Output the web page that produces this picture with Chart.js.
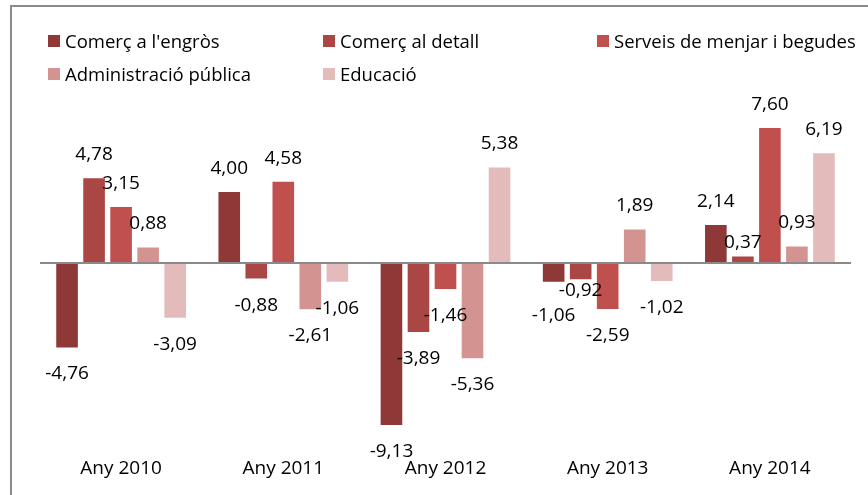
<!DOCTYPE html>
<html>
<head>
<meta charset="utf-8">
<script src="https://cdn.jsdelivr.net/npm/chart.js@4"></script>
<style>
  html, body { margin: 0; padding: 0; background: #fff; }
  #wrap { position: relative; width: 868px; height: 495px; overflow: hidden; }
  #frame { position: absolute; left: 10px; top: 5px; right: -5px; bottom: -5px;
           border-left: 2px solid #8a8a8a; border-top: 2px solid #8a8a8a; pointer-events: none; }
  #legend { position: absolute; left: 0; top: 0; width: 868px; height: 90px; font-family: "Open Sans", sans-serif; font-size: 18.5px; color: #000; }
  .li { position: absolute; display: flex; align-items: center; white-space: nowrap; line-height: 1; }
  .sw { width: 12px; height: 12px; margin-right: 5px; flex: none; }
  canvas { position: absolute; left: 0; top: 0; }
</style>
</head>
<body>
<div id="wrap">
  <canvas id="c" width="868" height="495"></canvas>
  <div id="legend"></div>
  <div id="frame"></div>
</div>
<script>
const categories = ["Any 2010", "Any 2011", "Any 2012", "Any 2013", "Any 2014"];
const seriesNames = ["Comerç a l'engròs", "Comerç al detall", "Serveis de menjar i begudes", "Administració pública", "Educació"];
const comercEngros = [-4.76, 4.00, -9.13, -1.06, 2.14];
const comercDetall = [4.78, -0.88, -3.89, -0.92, 0.37];
const serveisMenjar = [3.15, 4.58, -1.46, -2.59, 7.60];
const administracio = [0.88, -2.61, -5.36, 1.89, 0.93];
const educacio = [-3.09, -1.06, 5.38, -1.02, 6.19];

const colors = ["#8E3837", "#AA4643", "#C0504D", "#D39391", "#E3BBBB"];
// manual label nudges (style only) : [seriesIndex, categoryIndex, dy]
const labelNudges = [[0, 3, 7], [1, 3, -15], [1, 4, 9.5]];

const seriesValues = [comercEngros, comercDetall, serveisMenjar, administracio, educacio];

const FONT = '"Open Sans", sans-serif';

// Legend (HTML, 3 columns)
const legendPos = [[48, 41], [323, 41], [597, 41], [48, 74], [323, 74]];
const legendEl = document.getElementById('legend');
seriesNames.forEach((n, i) => {
  const d = document.createElement('div');
  d.className = 'li';
  d.style.left = legendPos[i][0] + 'px';
  d.style.top = (legendPos[i][1] - 10) + 'px';
  d.style.height = '20px';
  d.innerHTML = '<span class="sw" style="background:' + colors[i] + '"></span><span></span>';
  d.lastChild.textContent = n;
  legendEl.appendChild(d);
});

const valueLabels = {
  id: 'valueLabels',
  afterDatasetsDraw(chart) {
    const ctx = chart.ctx;
    ctx.save();
    ctx.font = '19px ' + FONT;
    ctx.fillStyle = '#000';
    ctx.textAlign = 'center';
    ctx.textBaseline = 'middle';
    chart.data.datasets.forEach((ds, i) => {
      const meta = chart.getDatasetMeta(i);
      meta.data.forEach((bar, j) => {
        const v = ds.data[j];
        let y = v >= 0 ? bar.y - 23.5 : bar.y + 26.5;
        labelNudges.forEach(n => { if (n[0] === i && n[1] === j) y += n[2]; });
        ctx.fillText(v.toFixed(2).replace('.', ','), bar.x, y);
      });
    });
    ctx.restore();
  }
};

new Chart(document.getElementById('c'), {
  type: 'bar',
  data: {
    labels: categories,
    datasets: seriesValues.map((vals, i) => ({
      label: seriesNames[i],
      data: vals,
      backgroundColor: colors[i],
      categoryPercentage: 0.833,
      barPercentage: 0.8
    }))
  },
  options: {
    responsive: false,
    animation: false,
    devicePixelRatio: 1,
    layout: { padding: { left: 40, right: 17, top: 85.5, bottom: 0 } },
    plugins: { legend: { display: false }, tooltip: { enabled: false } },
    scales: {
      x: {
        grid: { display: false, drawTicks: false },
        border: { display: false },
        ticks: { font: { family: FONT, size: 19 }, color: '#000', padding: 17 },
        afterFit(scale) { scale.height = 54.5; }
      },
      y: {
        min: -10, max: 10,
        ticks: { display: false, stepSize: 2 },
        border: { display: false },
        grid: {
          drawTicks: false,
          color: ctx => (ctx.tick && ctx.tick.value === 0) ? '#8a8a8a' : 'rgba(0,0,0,0)',
          lineWidth: ctx => (ctx.tick && ctx.tick.value === 0) ? 2 : 0
        },
        afterFit(scale) { scale.width = 0; }
      }
    }
  },
  plugins: [valueLabels]
});
</script>
</body>
</html>
